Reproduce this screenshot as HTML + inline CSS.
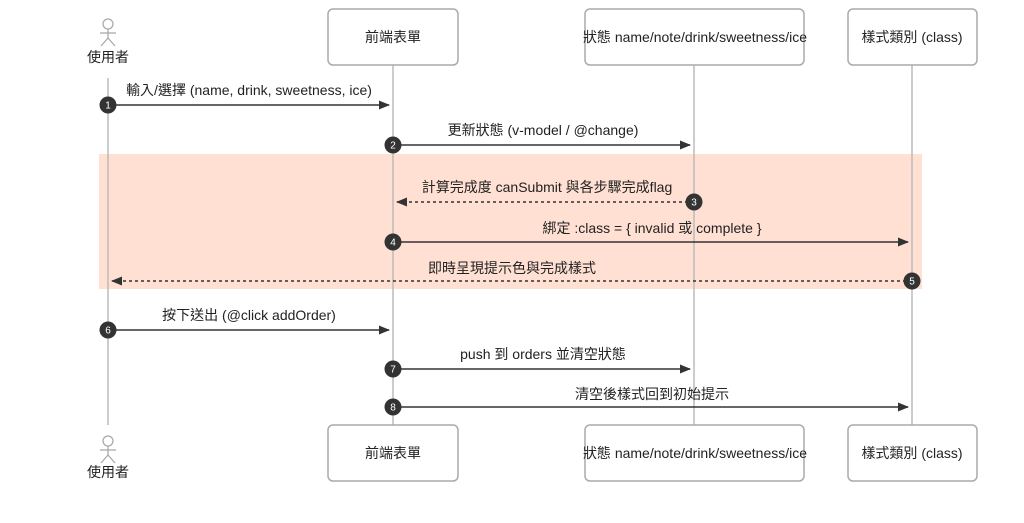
<!DOCTYPE html>
<html><head><meta charset="utf-8"><style>
body{margin:0;background:#fff;}
svg text{font-family:"Liberation Sans","Noto Sans CJK TC",sans-serif;font-size:14px;fill:#222;}
</style></head><body>
<svg width="1024" height="518" viewBox="0 0 1024 518" xmlns="http://www.w3.org/2000/svg">
<defs>
<marker id="a" markerWidth="11" markerHeight="9" refX="10" refY="4.5" orient="auto" markerUnits="userSpaceOnUse"><path d="M0,0L11,4.5L0,9z" fill="#333"/></marker>
</defs>
<rect x="99" y="154" width="823" height="135" fill="#ffe0d3"/>
<g stroke="#bbb" stroke-width="1.5">
<line x1="108" y1="78" x2="108" y2="425"/>
<line x1="393" y1="65" x2="393" y2="425"/>
<line x1="694" y1="65" x2="694" y2="425"/>
<line x1="912" y1="65" x2="912" y2="425"/>
</g>
<g fill="#fff" stroke="#aaa" stroke-width="1.5">
<rect x="328" y="9" width="130" height="56" rx="5"/>
<rect x="585" y="9" width="219" height="56" rx="5"/>
<rect x="848" y="9" width="129" height="56" rx="5"/>
<rect x="328" y="425" width="130" height="56" rx="5"/>
<rect x="585" y="425" width="219" height="56" rx="5"/>
<rect x="848" y="425" width="129" height="56" rx="5"/>
</g>
<g fill="none" stroke="#aaa" stroke-width="1.3">
<circle cx="108" cy="24" r="5"/><line x1="108" y1="29" x2="108" y2="38"/><line x1="100" y1="33" x2="116" y2="33"/><line x1="108" y1="38" x2="101" y2="46"/><line x1="108" y1="38" x2="115" y2="46"/>
<circle cx="108" cy="441" r="5"/><line x1="108" y1="446" x2="108" y2="455"/><line x1="100" y1="450" x2="116" y2="450"/><line x1="108" y1="455" x2="101" y2="463"/><line x1="108" y1="455" x2="115" y2="463"/>
</g>
<g text-anchor="middle">
<text x="108" y="62">使用者</text>
<text x="108" y="477">使用者</text>
<text x="393" y="42">前端表單</text>
<text x="695" y="42">狀態 name/note/drink/sweetness/ice</text>
<text x="912" y="42">樣式類別 (class)</text>
<text x="393" y="458">前端表單</text>
<text x="695" y="458">狀態 name/note/drink/sweetness/ice</text>
<text x="912" y="458">樣式類別 (class)</text>
</g>
<g stroke="#333" stroke-width="1.5" marker-end="url(#a)">
<line x1="108" y1="105" x2="389" y2="105"/>
<line x1="393" y1="145" x2="690" y2="145"/>
<line x1="694" y1="202" x2="397" y2="202" stroke-dasharray="3,3"/>
<line x1="393" y1="242" x2="908" y2="242"/>
<line x1="912" y1="281" x2="112" y2="281" stroke-dasharray="3,3"/>
<line x1="108" y1="330" x2="389" y2="330"/>
<line x1="393" y1="369" x2="690" y2="369"/>
<line x1="393" y1="407" x2="908" y2="407"/>
</g>
<g text-anchor="middle">
<text x="249" y="95">輸入/選擇 (name, drink, sweetness, ice)</text>
<text x="543" y="135">更新狀態 (v-model / @change)</text>
<text x="547" y="192">計算完成度 canSubmit 與各步驟完成flag</text>
<text x="652" y="233">綁定 :class = { invalid 或 complete }</text>
<text x="512" y="273">即時呈現提示色與完成樣式</text>
<text x="249" y="320">按下送出 (@click addOrder)</text>
<text x="543" y="359">push 到 orders 並清空狀態</text>
<text x="652" y="399">清空後樣式回到初始提示</text>
</g>
<g fill="#333">
<circle cx="108" cy="105" r="8.5"/><circle cx="393" cy="145" r="8.5"/><circle cx="694" cy="202" r="8.5"/><circle cx="393" cy="242" r="8.5"/><circle cx="912" cy="281" r="8.5"/><circle cx="108" cy="330" r="8.5"/><circle cx="393" cy="369" r="8.5"/><circle cx="393" cy="407" r="8.5"/>
</g>
<g text-anchor="middle">
<text x="108" y="108.5" style="fill:#fff;font-size:10px">1</text>
<text x="393" y="148.5" style="fill:#fff;font-size:10px">2</text>
<text x="694" y="205.5" style="fill:#fff;font-size:10px">3</text>
<text x="393" y="245.5" style="fill:#fff;font-size:10px">4</text>
<text x="912" y="284.5" style="fill:#fff;font-size:10px">5</text>
<text x="108" y="333.5" style="fill:#fff;font-size:10px">6</text>
<text x="393" y="372.5" style="fill:#fff;font-size:10px">7</text>
<text x="393" y="410.5" style="fill:#fff;font-size:10px">8</text>
</g>
</svg>
</body></html>
